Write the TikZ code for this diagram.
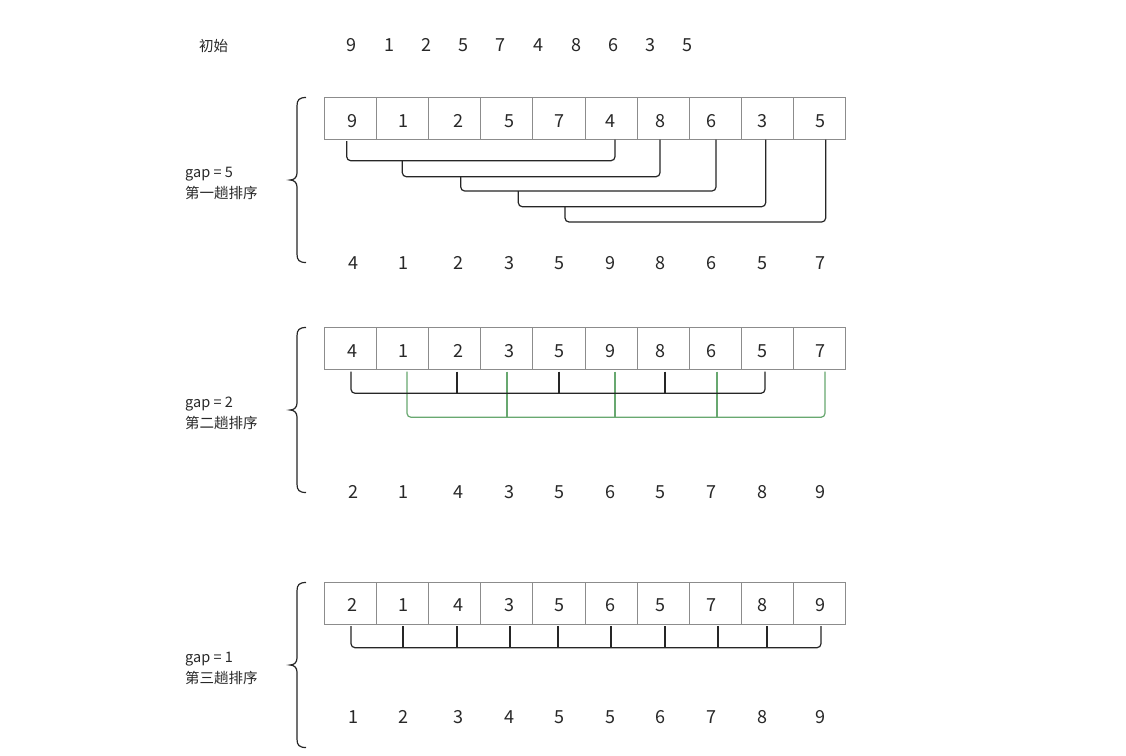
\documentclass[tikz,border=0pt]{standalone}
\usepackage{fontspec}
\setmainfont{Noto Sans CJK SC}
\definecolor{grn}{RGB}{104,168,112}
\definecolor{txt}{RGB}{40,40,40}
\definecolor{boxc}{RGB}{140,140,140}
\begin{document}
\begin{tikzpicture}[x=1pt,y=-1pt,
  cell/.style={draw=boxc,line width=0.8pt,minimum width=52.1pt,minimum height=42pt,inner sep=0pt,anchor=north west},
  dig/.style={font=\fontsize{18}{18}\selectfont,text=txt,anchor=base,inner sep=0pt},
  lab/.style={font=\fontsize{14.5}{14.5}\selectfont,text=txt,anchor=base west,inner sep=0pt},
  br/.style={line width=1.2pt,draw=black!85,rounded corners=4pt},
  tick/.style={line width=1.2pt,draw=black!85},
  gbr/.style={line width=1.2pt,draw=grn,rounded corners=4pt},
  gtick/.style={line width=1.2pt,draw=grn},
  brace/.style={line width=1.2pt,draw=black!85}]
\fill[white] (0,0) rectangle (1126,755);
\useasboundingbox (0,0) rectangle (1126,755);

% initial row
\node[lab] (init) at (199,51.5) {初始};
\foreach \x/\v [count=\k] in {351.7/9,389/1,426/2,463.4/5,500/7,538/4,576/8,613/6,650/3,687/5}
  \node[dig] (t\k) at (\x,51.5) {\v};

% ---------- section 1 ----------
\foreach \i in {0,...,9} \node[cell] (s1c\i) at ({324+52.1*\i},97) {};
\foreach \x/\v [count=\k] in {352/9,403/1,458/2,509/5,559/7,610/4,660/8,711/6,762/3,820/5}
  \node[dig] (s1d\k) at (\x,127) {\v};
\foreach \x/\v [count=\k] in {353/4,403/1,458/2,509/3,559/5,610/9,660/8,711/6,762/5,820/7}
  \node[dig] (s1r\k) at (\x,269.5) {\v};
\node[lab] (g1) at (185,177) {gap = 5};
\node[lab] (n1) at (185,198) {第一趟排序};
\draw[brace] (306,97.5) .. controls (299,97.5) and (297,100) .. (297,106) -- (297,173)
  .. controls (297,177.5) and (294,180) .. (290,180)
  .. controls (294,180) and (297,182.5) .. (297,187) -- (297,254)
  .. controls (297,260) and (299,262.5) .. (306,262.5);
% brackets: left end starts on the previous bracket's line
\foreach \a/\t/\b/\h [count=\k] in {346.7/141/615/160.7,402.3/160.7/660/176.7,460.7/176.7/716/191,518.3/191/765.7/206.7,565/206.7/825.7/222}{
  \coordinate (s1L\k) at (\a,\t);
  \coordinate (s1R\k) at (\b,139.5);
  \coordinate (s1H\k) at (0,\h);
  \draw[br] (s1L\k) -- (s1L\k |- s1H\k) -- (s1R\k |- s1H\k) -- (s1R\k);
}

% ---------- section 2 ----------
\foreach \i in {0,...,9} \node[cell] (s2c\i) at ({324+52.1*\i},327.3) {};
\foreach \x/\v [count=\k] in {352/4,403/1,458/2,509/3,559/5,610/9,660/8,711/6,762/5,820/7}
  \node[dig] (s2d\k) at (\x,357) {\v};
\foreach \x/\v [count=\k] in {353/2,403/1,458/4,509/3,559/5,610/6,660/5,711/7,762/8,820/9}
  \node[dig] (s2r\k) at (\x,498.5) {\v};
\node[lab] (g2) at (185,407) {gap = 2};
\node[lab] (n2) at (185,428) {第二趟排序};
\draw[brace] (306,327.5) .. controls (299,327.5) and (297,330) .. (297,336) -- (297,403)
  .. controls (297,407.5) and (294,410) .. (290,410)
  .. controls (294,410) and (297,412.5) .. (297,417) -- (297,484)
  .. controls (297,490) and (299,492.5) .. (306,492.5);
\foreach \x [count=\k] in {351,457,559,665,765} \coordinate (s2b\k) at (\x,371.5);
\foreach \x [count=\k] in {407,507,615,717,825} \coordinate (s2g\k) at (\x,371.5);
\coordinate (s2hb) at (0,393.3);
\coordinate (s2hg) at (0,417.3);
\draw[gbr] (s2g1) -- (s2g1 |- s2hg) -- (s2g5 |- s2hg) -- (s2g5);
\foreach \k in {2,3,4} \draw[gtick] (s2g\k) -- (s2g\k |- s2hg);
\draw[br] (s2b1) -- (s2b1 |- s2hb) -- (s2b5 |- s2hb) -- (s2b5);
\foreach \k in {2,3,4} \draw[tick] (s2b\k) -- (s2b\k |- s2hb);

% ---------- section 3 ----------
\foreach \i in {0,...,9} \node[cell] (s3c\i) at ({324+52.1*\i},582.3) {};
\foreach \x/\v [count=\k] in {352/2,403/1,458/4,509/3,559/5,610/6,660/5,711/7,762/8,820/9}
  \node[dig] (s3d\k) at (\x,611.5) {\v};
\foreach \x/\v [count=\k] in {353/1,403/2,458/3,509/4,559/5,610/5,660/6,711/7,762/8,820/9}
  \node[dig] (s3r\k) at (\x,723.5) {\v};
\node[lab] (g3) at (185,662) {gap = 1};
\node[lab] (n3) at (185,683) {第三趟排序};
\draw[brace] (306,582.5) .. controls (299,582.5) and (297,585) .. (297,591) -- (297,658)
  .. controls (297,662.5) and (294,665) .. (290,665)
  .. controls (294,665) and (297,667.5) .. (297,672) -- (297,739)
  .. controls (297,745) and (299,747.5) .. (306,747.5);
\foreach \x [count=\k] in {351,403,457,510,558,611,665,718,767,821} \coordinate (s3p\k) at (\x,626);
\coordinate (s3h) at (0,647.7);
\draw[br] (s3p1) -- (s3p1 |- s3h) -- (s3p10 |- s3h) -- (s3p10);
\foreach \k in {2,...,9} \draw[tick] (s3p\k) -- (s3p\k |- s3h);
\end{tikzpicture}
\end{document}
